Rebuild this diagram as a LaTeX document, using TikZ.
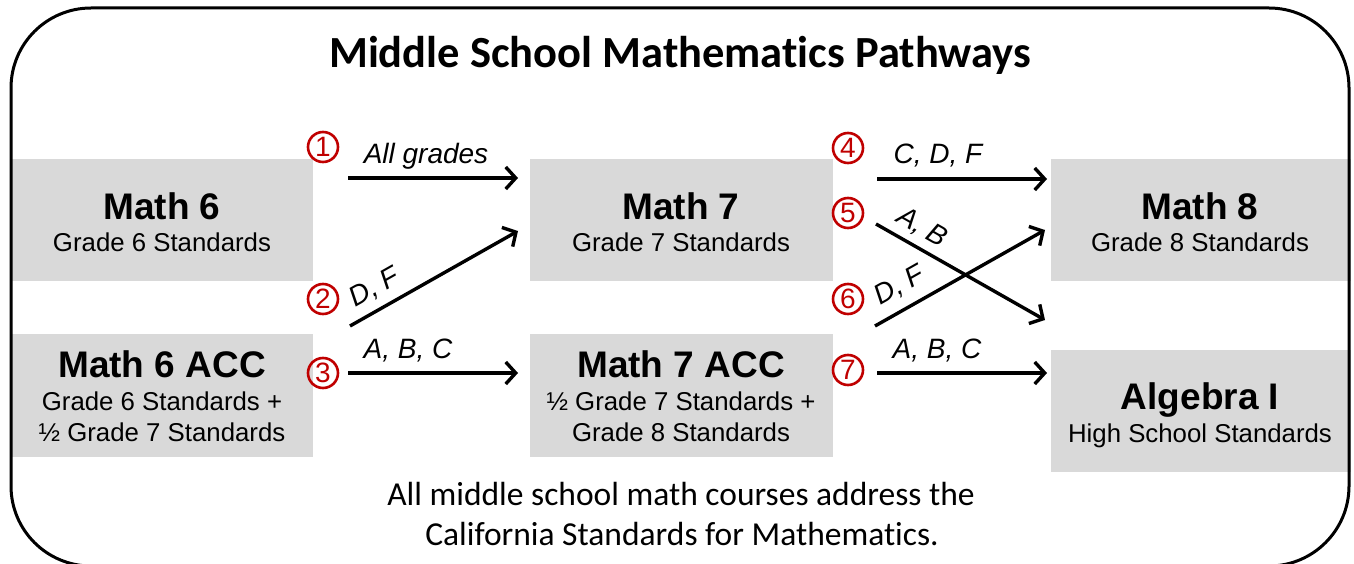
\documentclass[tikz,border=0pt]{standalone}
\usepackage{fontspec}
\setmainfont{Liberation Sans}
\newfontfamily\calib[Ligatures=NoCommon]{Carlito}
\usetikzlibrary{arrows.meta}
\definecolor{boxgray}{HTML}{D9D9D9}
\definecolor{numred}{HTML}{C00000}
\begin{document}
\begin{tikzpicture}[x=1pt,y=-1pt,
  course/.style={fill=boxgray, draw=none, inner sep=0pt, anchor=north west},
  ctitle/.style={font=\fontsize{37}{40}\selectfont\bfseries, anchor=base},
  csub/.style={font=\fontsize{25.8}{28}\selectfont, anchor=base},
  lab/.style={font=\fontsize{28}{30}\selectfont\itshape},
  num/.style={circle, draw=numred, line width=2.6pt, text=numred, inner sep=0pt, minimum size=30pt, font=\fontsize{28}{28}\selectfont},
  flow/.style={line width=3.4pt, -{Straight Barb[length=10pt,width=22pt]}}
]
\useasboundingbox (0,0) rectangle (1354,564);
\clip (0,0) rectangle (1354,564);
\fill[white] (0,0) rectangle (1354,564);

% course boxes
\node[course, minimum width=301pt, minimum height=122pt] (m6) at (12,159) {};
\node[course, minimum width=301pt, minimum height=123pt] (m6acc) at (12,334) {};
\node[course, minimum width=303pt, minimum height=122pt] (m7) at (530,159) {};
\node[course, minimum width=303pt, minimum height=123pt] (m7acc) at (530,334) {};
\node[course, minimum width=300pt, minimum height=122pt] (m8) at (1051,159) {};
\node[course, minimum width=300pt, minimum height=122pt] (alg) at (1051,350) {};

% outer frame
\draw[line width=3pt, rounded corners=80pt] (11,8) rectangle (1349,566);

% title
\node[font=\calib\bfseries\fontsize{44.5}{48}\selectfont, anchor=base] (title) at (680,68) {Middle School Mathematics Pathways};

% box texts
\node[ctitle] (m6t) at (162,219) {Math 6};
\node[csub] (m6s) at (162,251) {Grade 6 Standards};
\node[ctitle] (m6acct) at (162,377) {Math 6 ACC};
\node[csub] (m6accs1) at (162,410) {Grade 6 Standards +};
\node[csub] (m6accs2) at (162,441) {½ Grade 7 Standards};
\node[ctitle] (m7t) at (681,219) {Math 7};
\node[csub] (m7s) at (681,251) {Grade 7 Standards};
\node[ctitle] (m7acct) at (681,377) {Math 7 ACC};
\node[csub] (m7accs1) at (681,410) {½ Grade 7 Standards +};
\node[csub] (m7accs2) at (681,441) {Grade 8 Standards};
\node[ctitle] (m8t) at (1200,219) {Math 8};
\node[csub] (m8s) at (1200,251) {Grade 8 Standards};
\node[ctitle] (algt) at (1200,409) {Algebra I};
\node[csub] (algs) at (1200,442) {High School Standards};

% numbers
\node[num] (n1) at (323,147) {1};
\node[num] (n2) at (323,299) {2};
\node[num] (n3) at (323,373) {3};
\node[num] (n4) at (848,148) {4};
\node[num] (n5) at (848,213) {5};
\node[num] (n6) at (848,299) {6};
\node[num] (n7) at (848,370) {7};

% arrow end points
\coordinate (a1s) at (348,178); \coordinate (a1e) at (518,178);
\coordinate (a2s) at (350,326); \coordinate (a2e) at (518,231);
\coordinate (a3s) at (348,373); \coordinate (a3e) at (518,373);
\coordinate (a4s) at (877,179); \coordinate (a4e) at (1047,179);
\coordinate (a5s) at (876,224); \coordinate (a5e) at (1045,320);
\coordinate (a6s) at (875,326); \coordinate (a6e) at (1045,230);
\coordinate (a7s) at (877,373); \coordinate (a7e) at (1047,373);

\draw[flow] (a1s) -- (a1e);
\draw[flow] (a2s) -- (a2e);
\draw[flow] (a3s) -- (a3e);
\draw[flow] (a4s) -- (a4e);
\draw[flow] (a5s) -- (a5e);
\draw[flow] (a6s) -- (a6e);
\draw[flow] (a7s) -- (a7e);

% labels
\node[lab, anchor=base] (l1) at (426,164) {All grades};
\node[lab, rotate=29.5] (l2) at (375,288) {D, F};
\node[lab, anchor=base] (l3) at (408,358) {A, B, C};
\node[lab, anchor=base] (l4) at (938,164) {C, D, F};
\node[lab, rotate=-29.7] (l5) at (922,228) {A, B};
\node[lab, rotate=29.5] (l6) at (900,286) {D, F};
\node[lab, anchor=base] (l7) at (937,358) {A, B, C};

% bottom note
\node[font=\calib\fontsize{33.5}{36}\selectfont, anchor=base] (note1) at (681,505) {All middle school math courses address the};
\node[font=\calib\fontsize{33.5}{36}\selectfont, anchor=base] (note2) at (682,545) {California Standards for Mathematics.};
\end{tikzpicture}
\end{document}
